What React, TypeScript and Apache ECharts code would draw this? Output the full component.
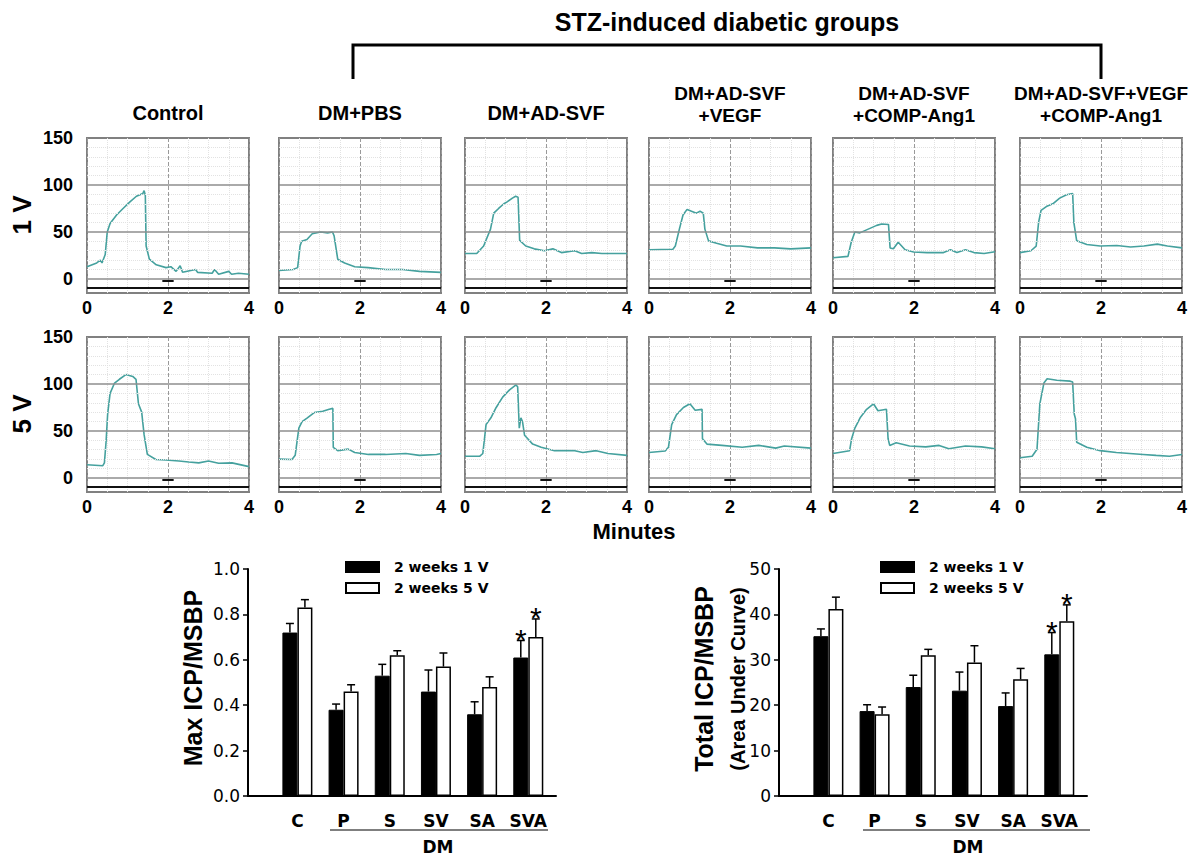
import React, { useEffect, useRef } from 'react';
import * as echarts from 'echarts';

// ---------- data ----------
const groupTitles = ['Control', 'DM+PBS', 'DM+AD-SVF', 'DM+AD-SVF\n+VEGF', 'DM+AD-SVF\n+COMP-Ang1', 'DM+AD-SVF+VEGF\n+COMP-Ang1'];
const rowLabels = ['1 V', '5 V'];
const pressureTicks = [0, 50, 100, 150];
const pressureMinorLines = [-10, 10, 20, 30, 40, 60, 70, 80, 90, 110, 120, 130, 140];
const pressureMajorLines = [0, 50, 100];

// ICP traces: [minutes, mmHg]
const ctrl1V = [[0,13],[0.24,17],[0.33,20],[0.37,17],[0.45,26],[0.5,50],[0.57,59],[0.73,68],[0.89,75],[1.06,82],[1.22,88],[1.38,91],[1.41,94],[1.44,89],[1.46,35],[1.54,21],[1.71,15],[1.95,12],[2.07,13],[2.2,8],[2.3,14],[2.36,7],[2.68,10],[2.73,7],[3.09,6],[3.15,10],[3.25,5],[3.5,8],[3.57,5],[3.74,6],[4,5]];
const pbs1V = [[0,9],[0.35,10],[0.46,12],[0.52,35],[0.56,40],[0.69,42],[0.82,48],[1.03,50],[1.2,49],[1.32,50],[1.36,46],[1.45,21],[1.62,17],[1.87,13],[2.2,12],[2.63,10],[3.05,10],[3.47,8],[4,7]];
const svf1V = [[0,27],[0.29,27],[0.46,35],[0.63,53],[0.71,70],[0.83,75],[0.96,80],[1.04,82],[1.17,86],[1.25,88],[1.31,87],[1.35,41],[1.5,35],[1.71,32],[1.96,30],[2.17,32],[2.38,28],[2.71,30],[2.88,27],[3.13,28],[3.38,27],[3.71,27],[4,27]];
const vegf1V = [[0,31],[0.59,31.5],[0.65,35],[0.75,53],[0.84,68],[0.94,74],[1.05,72],[1.17,70],[1.26,72],[1.34,70],[1.38,53],[1.47,40.5],[1.67,38],[1.92,35],[2.26,35],[2.68,33],[3.1,33],[3.5,32],[4,33]];
const ang1V = [[0,22.5],[0.37,24],[0.45,39],[0.54,50],[0.66,49],[0.87,53],[1.08,57],[1.2,58.5],[1.37,58],[1.41,33],[1.49,32],[1.61,39],[1.78,31],[1.99,28.6],[2.32,28],[2.73,28],[2.9,31],[3.06,28],[3.27,31],[3.48,28],[3.73,27],[4,29]];
const vegfAng1V = [[0,28],[0.27,30],[0.4,35],[0.46,60.5],[0.52,73],[0.65,77],[0.81,80],[0.98,86],[1.15,89.5],[1.3,91],[1.33,60],[1.4,40.5],[1.65,36.6],[1.98,35],[2.39,35.5],[2.73,34],[3.06,35],[3.39,37],[3.64,35],[4,33]];
const ctrl5V = [[0,14],[0.39,13],[0.43,16],[0.47,38],[0.51,68],[0.57,90],[0.68,101],[0.8,105],[0.96,110],[1.13,108],[1.21,105],[1.27,79],[1.35,70],[1.41,46],[1.49,25],[1.7,19.6],[1.94,19],[2.27,18],[2.51,17],[2.76,16],[3,18],[3.25,15.6],[3.58,16],[4,12]];
const pbs5V = [[0,20],[0.32,19.6],[0.4,24],[0.49,53],[0.57,60],[0.7,64],[0.87,69.6],[1.08,71],[1.24,73],[1.33,74],[1.34,32.6],[1.45,29],[1.71,30.6],[1.87,27],[2.21,25],[2.63,25],[3.13,26],[3.47,24],[3.89,25],[4,26]];
const svf5V = [[0,23],[0.36,23],[0.44,26],[0.52,56.7],[0.64,64],[0.77,75],[0.93,86],[1.1,93.7],[1.26,99],[1.3,97],[1.34,53],[1.38,64],[1.42,60],[1.47,45.5],[1.55,41.7],[1.67,36],[1.88,32.6],[2.21,29],[2.71,29],[2.91,27],[3.24,29],[3.53,26],[4,24]];
const vegf5V = [[0,27],[0.4,28.6],[0.48,32.6],[0.56,56.7],[0.68,67.4],[0.85,75],[1.01,78.9],[1.14,72],[1.31,73],[1.32,41.7],[1.43,36],[1.8,34.6],[2.3,32.6],[2.71,34.6],[3.13,31.7],[3.34,34],[4,31.7]];
const ang5V = [[0,26],[0.41,29],[0.46,41.7],[0.54,53],[0.67,64],[0.83,73],[1,78.9],[1.11,71.5],[1.32,73],[1.36,41.7],[1.4,34.6],[1.56,37.5],[1.89,34],[2.29,33],[2.62,34.6],[2.86,31],[3.27,34],[3.67,33],[4,31]];
const vegfAng5V = [[0,21.4],[0.3,23],[0.42,30.5],[0.49,78.9],[0.59,101],[0.67,105.5],[0.91,104],[1.24,103],[1.3,102],[1.34,67.8],[1.37,63],[1.4,38],[1.65,32.6],[1.98,29],[2.38,27],[2.71,26],[3.04,25],[3.36,24],[3.69,23],[4,25]];
const tracesByRow = [
  [ctrl1V, pbs1V, svf1V, vegf1V, ang1V, vegfAng1V],
  [ctrl5V, pbs5V, svf5V, vegf5V, ang5V, vegfAng5V],
];

// Bar charts
const barCategories = ['C', 'P', 'S', 'SV', 'SA', 'SVA'];
const seriesNames = ['2 weeks 1 V', '2 weeks 5 V'];
const maxIcp1V = [0.72, 0.38, 0.53, 0.46, 0.36, 0.61];
const maxIcp1VErr = [0.04, 0.025, 0.05, 0.095, 0.055, 0.075];
const maxIcp5V = [0.83, 0.46, 0.62, 0.57, 0.48, 0.70];
const maxIcp5VErr = [0.035, 0.03, 0.02, 0.06, 0.045, 0.08];
const totalIcp1V = [35.2, 18.7, 24.0, 23.2, 19.8, 31.2];
const totalIcp1VErr = [1.6, 1.4, 2.6, 4.1, 2.9, 4.8];
const totalIcp5V = [41.2, 18.0, 31.0, 29.4, 25.7, 38.5];
const totalIcp5VErr = [2.6, 1.6, 1.3, 3.7, 2.4, 3.6];
const significant1V = [0, 0, 0, 0, 0, 1];
const significant5V = [0, 0, 0, 0, 0, 1];

// ---------- layout / style ----------
const FONT = '"Liberation Sans", Arial, Helvetica, sans-serif';
const WIDE = '"DejaVu Sans", Verdana, sans-serif';
const TRACE = '#45a19e';
const PANEL_LEFTS = [87, 279, 465, 649, 833, 1020];
const PANEL_TOPS = [138, 337];
const PANEL_W = 162;
const PANEL_H = 155;
const BAR_W = 15;

function buildOption() {
  const grids: any[] = [];
  const xAxes: any[] = [];
  const yAxes: any[] = [];
  const series: any[] = [];
  const graphic: any[] = [];

  tracesByRow.forEach((row, r) => {
    row.forEach((data, c) => {
      const idx = grids.length;
      grids.push({
        left: PANEL_LEFTS[c], top: PANEL_TOPS[r], width: PANEL_W, height: PANEL_H,
        show: true, borderColor: '#808080', borderWidth: 2, backgroundColor: '#fff',
      });
      xAxes.push({
        type: 'value', gridIndex: idx, min: 0, max: 4, interval: 2,
        axisLine: { show: false }, axisTick: { show: false },
        axisLabel: { fontFamily: FONT, fontWeight: 'bold', fontSize: 18, color: '#000', margin: 6 },
        splitLine: { show: true, lineStyle: { color: '#9a9a9a', type: 'dashed', width: 1 } },
        minorTick: { show: false, splitNumber: 4 },
        minorSplitLine: { show: true, lineStyle: { color: '#e2e2e2', type: 'dotted', width: 1 } },
      });
      yAxes.push({
        type: 'value', gridIndex: idx, min: -15, max: 150,
        axisLine: { show: false, onZero: false }, axisTick: { show: false }, splitLine: { show: false },
        axisLabel: c === 0
          ? { customValues: pressureTicks, fontFamily: FONT, fontWeight: 'bold', fontSize: 18, color: '#000', margin: 14 }
          : { show: false },
      });
      // grid decoration (gridlines, timer bar)
      series.push({
        type: 'line', xAxisIndex: idx, yAxisIndex: idx, data, silent: true, z: 2,
        showSymbol: false, symbol: 'none', lineStyle: { opacity: 0 }, tooltip: { show: false },
        markLine: {
          silent: true, symbol: 'none', label: { show: false },
          data: [
            ...pressureMinorLines.map((v) => ({ yAxis: v, lineStyle: { color: '#e2e2e2', type: 'dotted', width: 1 } })),
            ...pressureMajorLines.map((v) => ({ yAxis: v, lineStyle: { color: '#8e8e8e', type: 'solid', width: 1.5 } })),
            [{ coord: [0, -9], lineStyle: { color: '#111', type: 'solid', width: 2 } }, { coord: [4, -9] }],
            [{ coord: [1.86, -2], lineStyle: { color: '#111', type: 'solid', width: 2 } }, { coord: [2.14, -2] }],
          ],
        },
      });
      series.push({
        type: 'line', name: `${groupTitles[c].replace('\n', ' ')} ${rowLabels[r]}`,
        xAxisIndex: idx, yAxisIndex: idx, data, z: 3, silent: true,
        showSymbol: false, symbol: 'none', smooth: false,
        lineStyle: { color: TRACE, width: 1.6 },
      });
    });
  });

  // ---- bar charts ----
  const barCharts = [
    { left: 248, vals: [maxIcp1V, maxIcp5V], errs: [maxIcp1VErr, maxIcp5VErr], max: 1, interval: 0.2, fmt: (v: number) => v.toFixed(1) },
    { left: 779, vals: [totalIcp1V, totalIcp5V], errs: [totalIcp1VErr, totalIcp5VErr], max: 50, interval: 10, fmt: (v: number) => String(v) },
  ];
  const sigs = [significant1V, significant5V];
  barCharts.forEach((bc) => {
    const idx = grids.length;
    grids.push({ left: bc.left, top: 569, width: 308, height: 227 });
    xAxes.push({
      type: 'value', gridIndex: idx, min: -1.07, max: 5.6,
      axisLine: { show: true, onZero: false, lineStyle: { color: '#000', width: 2 } },
      axisTick: { show: false }, splitLine: { show: false },
      axisLabel: {
        customValues: barCategories.map((_, i) => i),
        formatter: (v: number) => barCategories[Math.round(v)] ?? '',
        fontFamily: WIDE, fontWeight: 'bold', fontSize: 17, color: '#000', margin: 16,
      },
    });
    yAxes.push({
      type: 'value', gridIndex: idx, min: 0, max: bc.max, interval: bc.interval,
      axisLine: { show: true, onZero: false, lineStyle: { color: '#000', width: 2 } },
      axisTick: { show: true, length: 5, lineStyle: { color: '#000', width: 1.5 } },
      splitLine: { show: false },
      axisLabel: { formatter: bc.fmt, fontFamily: WIDE, fontSize: 17, color: '#000', margin: 8 },
    });
    [0, 1].forEach((k) => {
      series.push({
        type: 'bar', name: seriesNames[k], xAxisIndex: idx, yAxisIndex: idx,
        data: bc.vals[k].map((v, i) => [i, v]),
        barWidth: BAR_W, barGap: '0%',
        itemStyle: k === 0
          ? { color: '#000', borderColor: '#000', borderWidth: 1 }
          : { color: '#fff', borderColor: '#000', borderWidth: 1.5 },
        z: 3, silent: true,
      });
    });
    [0, 1].forEach((k) => {
      const dx = k === 0 ? -BAR_W / 2 : BAR_W / 2;
      series.push({
        type: 'custom', xAxisIndex: idx, yAxisIndex: idx, z: 4, silent: true,
        data: bc.vals[k].map((v, i) => [i, v, bc.errs[k][i], sigs[k][i]]),
        renderItem: (params: any, api: any) => {
          const i = api.value(0), v = api.value(1), e = api.value(2), s = api.value(3);
          const p = api.coord([i, v]);
          const q = api.coord([i, v + e]);
          const x = p[0] + dx;
          const children: any[] = [
            { type: 'line', shape: { x1: x, y1: p[1], x2: x, y2: q[1] }, style: { stroke: '#000', lineWidth: 1.5 } },
            { type: 'line', shape: { x1: x - 4, y1: q[1], x2: x + 4, y2: q[1] }, style: { stroke: '#000', lineWidth: 1.5 } },
          ];
          if (s) {
            children.push({
              type: 'text',
              style: { text: '*', x, y: q[1] - 1, fill: '#000', font: `30px ${FONT}`, align: 'center', verticalAlign: 'middle', textAlign: 'center', textVerticalAlign: 'middle' },
            });
          }
          return { type: 'group', children };
        },
      });
    });
  });

  // ---- text / decorations ----
  const txt = (text: string, x: number, y: number, font: string, extra: any = {}) => ({
    type: 'text', x, y, silent: true, ...extra,
    style: { text, font, fill: '#000', textAlign: 'center', textVerticalAlign: 'middle' },
  });
  graphic.push(txt('STZ-induced diabetic groups', 727, 22, `bold 25px ${FONT}`));
  graphic.push({
    type: 'polyline', silent: true,
    shape: { points: [[353, 79], [353, 45], [1101, 45], [1101, 79]] },
    style: { stroke: '#000', lineWidth: 3, fill: null },
  });
  groupTitles.forEach((t, c) => {
    const cx = PANEL_LEFTS[c] + PANEL_W / 2;
    const lines = t.split('\n');
    if (lines.length === 1) {
      graphic.push(txt(lines[0], cx, 113, `bold 20px ${FONT}`));
    } else {
      graphic.push(txt(lines[0], cx, 93, `bold 19px ${FONT}`));
      graphic.push(txt(lines[1], cx, 115, `bold 19px ${FONT}`));
    }
  });
  rowLabels.forEach((t, r) => {
    graphic.push(txt(t, 22, PANEL_TOPS[r] + 77, `bold 26px ${FONT}`, { rotation: Math.PI / 2 }));
  });
  graphic.push(txt('Minutes', 634, 531, `bold 22px ${FONT}`));
  graphic.push(txt('Max ICP/MSBP', 193, 678, `bold 25px ${FONT}`, { rotation: Math.PI / 2 }));
  graphic.push(txt('Total ICP/MSBP', 704, 679, `bold 25px ${FONT}`, { rotation: Math.PI / 2 }));
  graphic.push(txt('(Area Under Curve)', 738, 679, `bold 20px ${FONT}`, { rotation: Math.PI / 2 }));
  [[330, 548, 438], [863, 1090, 968]].forEach(([a, b, m]) => {
    graphic.push({ type: 'line', silent: true, shape: { x1: a, y1: 830, x2: b, y2: 830 }, style: { stroke: '#555', lineWidth: 1.5 } });
    graphic.push(txt('DM', m, 847, `bold 17px ${WIDE}`));
  });

  const legendBase = {
    orient: 'vertical', top: 555, itemWidth: 33, itemHeight: 10, itemGap: 7,
    icon: 'rect', selectedMode: false, data: seriesNames,
    textStyle: { fontFamily: WIDE, fontWeight: 'bold', fontSize: 14, color: '#000', padding: [0, 0, 0, 10] },
  };

  return {
    animation: false,
    backgroundColor: '#fff',
    grid: grids,
    xAxis: xAxes,
    yAxis: yAxes,
    legend: [
      { ...legendBase, left: 340 },
      { ...legendBase, left: 875 },
    ],
    series,
    graphic,
  };
}

export default function App() {
  const ref = useRef<HTMLDivElement>(null);
  useEffect(() => {
    if (!ref.current) return;
    const chart = echarts.init(ref.current, null, { renderer: 'svg' });
    chart.setOption(buildOption() as any);
    return () => chart.dispose();
  }, []);
  return (
    <div
      ref={ref}
      style={{ position: 'absolute', left: 0, top: 0, width: 1201, height: 866, background: '#fff' }}
    />
  );
}
